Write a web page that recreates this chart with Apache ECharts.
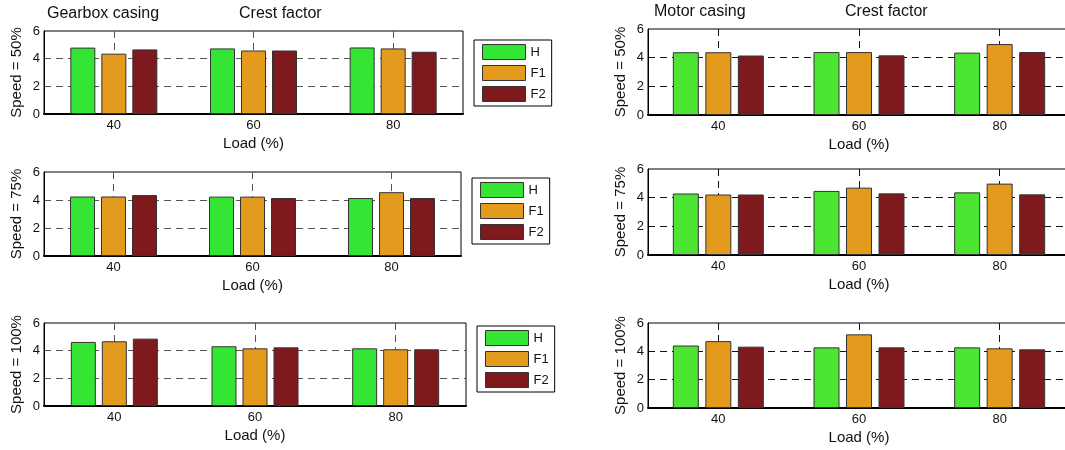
<!DOCTYPE html>
<html><head><meta charset="utf-8">
<script src="https://cdn.jsdelivr.net/npm/echarts@6/dist/echarts.min.js"></script>
<style>html,body{margin:0;padding:0;background:#fff}#c{width:1065px;height:450px}</style>
</head><body><div id="c"></div>
<script>
// ---- data ----
const categories = ['40', '60', '80'];
const seriesNames = ['H', 'F1', 'F2'];
const yTicks = [0, 2, 4, 6];
const panelTitles = ['Gearbox casing', 'Motor casing'];
const featureTitle = 'Crest factor';
const speedLabels = ['Speed = 50%', 'Speed = 75%', 'Speed = 100%'];
const xAxisName = 'Load (%)';

// Gearbox casing
const gearbox50H  = [4.80, 4.74, 4.81];
const gearbox50F1 = [4.36, 4.59, 4.74];
const gearbox50F2 = [4.67, 4.59, 4.50];
const gearbox75H  = [4.25, 4.24, 4.14];
const gearbox75F1 = [4.25, 4.24, 4.56];
const gearbox75F2 = [4.35, 4.14, 4.14];
const gearbox100H  = [4.63, 4.32, 4.17];
const gearbox100F1 = [4.68, 4.17, 4.10];
const gearbox100F2 = [4.87, 4.24, 4.10];
// Motor casing
const motor50H  = [4.38, 4.39, 4.35];
const motor50F1 = [4.38, 4.39, 4.95];
const motor50F2 = [4.15, 4.16, 4.39];
const motor75H  = [4.29, 4.47, 4.37];
const motor75F1 = [4.22, 4.70, 4.98];
const motor75F2 = [4.22, 4.30, 4.23];
const motor100H  = [4.41, 4.28, 4.28];
const motor100F1 = [4.72, 5.20, 4.21];
const motor100F2 = [4.33, 4.28, 4.14];

const panelData = [
  [gearbox50H, gearbox50F1, gearbox50F2],
  [gearbox75H, gearbox75F1, gearbox75F2],
  [gearbox100H, gearbox100F1, gearbox100F2],
  [motor50H, motor50F1, motor50F2],
  [motor75H, motor75F1, motor75F2],
  [motor100H, motor100F1, motor100F2]
];

// ---- layout / style ----
const FONT = '"Liberation Sans", Arial, Helvetica, sans-serif';
const gridBoxes = [
  {left: 44, top: 31,  width: 419, height: 83},
  {left: 44, top: 172, width: 417, height: 84},
  {left: 44, top: 323, width: 422, height: 83},
  {left: 648, top: 29,  width: 422, height: 86},
  {left: 648, top: 169, width: 422, height: 86},
  {left: 648, top: 323, width: 422, height: 85}
];
const leftColors  = ['#34e534', '#e39a1d', '#7e1a1d'];
const rightColors = ['#4de533', '#e39a1d', '#7e1a1d'];
const legendPos = [{left: 474, top: 40}, {left: 472, top: 178}, {left: 477, top: 326}];

const grids = [], xAxes = [], yAxes = [], series = [];
gridBoxes.forEach((g, i) => {
  grids.push(Object.assign({show: true, borderColor: '#000', borderWidth: 1, containLabel: false, outerBoundsMode: 'none'}, g));
  xAxes.push({
    gridIndex: i, type: 'category', data: categories,
    axisLine: {lineStyle: {color: '#000', width: 2}},
    axisTick: {show: false},
    axisLabel: {fontSize: 13, color: '#111', margin: 5, fontFamily: FONT},
    name: xAxisName, nameLocation: 'middle', nameGap: 22,
    nameTextStyle: {fontSize: 15, color: '#111', fontFamily: FONT},
    splitLine: {show: true, alignWithLabel: true, lineStyle: {type: [7, 5], color: i < 3 ? '#555' : '#111', width: 1}}
  });
  yAxes.push({
    gridIndex: i, type: 'value', min: yTicks[0], max: yTicks[yTicks.length - 1], interval: yTicks[1] - yTicks[0],
    axisLine: {show: true, lineStyle: {color: '#000', width: 1}},
    axisTick: {show: false},
    axisLabel: {fontSize: 13, color: '#111', margin: 4, fontFamily: FONT},
    name: speedLabels[i % 3], nameLocation: 'middle', nameGap: 20,
    nameTextStyle: {fontSize: 15, color: '#111', fontFamily: FONT},
    splitLine: {show: true, showMinLine: false, showMaxLine: false, lineStyle: {type: [7, 5], color: i < 3 ? '#555' : '#111', width: 1}}
  });
  const cols = i < 3 ? leftColors : rightColors;
  panelData[i].forEach((vals, k) => {
    series.push({
      type: 'bar', name: seriesNames[k], xAxisIndex: i, yAxisIndex: i, data: vals,
      barWidth: i < 3 ? 25 : 26, barGap: i < 3 ? '24%' : '25%',
      itemStyle: {color: cols[k], borderColor: '#333', borderWidth: 1},
      emphasis: {disabled: true}, silent: true, animation: false
    });
  });
});

const legends = legendPos.map(p => ({
  left: p.left, top: p.top, orient: 'vertical', data: seriesNames, icon: 'rect',
  itemWidth: 43, itemHeight: 15, itemGap: 5, padding: [4, 6, 4, 8],
  borderColor: '#000', borderWidth: 1, selectedMode: false,
  itemStyle: {borderColor: '#333', borderWidth: 1},
  textStyle: {fontSize: 13, color: '#111', fontFamily: FONT}
}));

const titleStyle = {fontSize: 16, fontWeight: 'normal', color: '#111', fontFamily: FONT};
const titles = [
  {text: panelTitles[0], left: 47, top: 6, padding: 0, textStyle: titleStyle},
  {text: featureTitle, left: 239, top: 6, padding: 0, textStyle: titleStyle},
  {text: panelTitles[1], left: 654, top: 4, padding: 0, textStyle: titleStyle},
  {text: featureTitle, left: 845, top: 4, padding: 0, textStyle: titleStyle}
];

const chart = echarts.init(document.getElementById('c'), null, {renderer: 'canvas'});
chart.setOption({
  animation: false,
  backgroundColor: '#fff',
  textStyle: {fontFamily: FONT},
  title: titles,
  legend: legends,
  grid: grids,
  xAxis: xAxes,
  yAxis: yAxes,
  series: series
});
</script></body></html>
